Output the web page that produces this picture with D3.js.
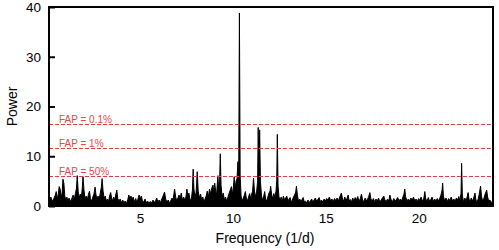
<!DOCTYPE html>
<html>
<head>
<meta charset="utf-8">
<script src="https://cdn.jsdelivr.net/npm/d3@7"></script>
<style>
  body { margin: 0; background: #fff; }
  svg { display: block; font-family: "Liberation Sans", Arial, Helvetica, sans-serif; }
</style>
</head>
<body>
<div id="chart"></div>
<script>
// periodogram, frequency (1/d) vs power
const freq = [
  0.10, 0.20, 0.28, 0.36, 0.44, 0.49, 0.54, 0.60, 0.65, 0.70, 0.76, 0.81, 0.85, 0.90, 0.95,
  1.00, 1.06, 1.12, 1.18, 1.25, 1.32, 1.40, 1.46, 1.52, 1.58, 1.62, 1.67, 1.72, 1.78, 1.85, 1.90, 1.93, 1.98,
  2.04, 2.10, 2.16, 2.22, 2.28, 2.33, 2.40, 2.46, 2.52, 2.58, 2.62, 2.68, 2.74, 2.80, 2.86, 2.92, 2.96,
  3.01, 3.07, 3.13, 3.18, 3.24, 3.30, 3.36, 3.42, 3.47, 3.53, 3.58, 3.64, 3.70, 3.75, 3.80, 3.87, 3.93,
  4.00, 4.07, 4.13, 4.20, 4.27, 4.34, 4.40, 4.45, 4.51, 4.57, 4.63, 4.70, 4.77, 4.84, 4.90, 4.95,
  5.00, 5.07, 5.13, 5.20, 5.27, 5.34, 5.41, 5.48, 5.55, 5.62, 5.70, 5.77, 5.84, 5.90, 5.96,
  6.03, 6.10, 6.18, 6.24, 6.32, 6.38, 6.45, 6.52, 6.58, 6.65, 6.72, 6.78, 6.86, 6.92, 6.98,
  7.04, 7.10, 7.16, 7.22, 7.28, 7.35, 7.42, 7.48, 7.52, 7.58, 7.63, 7.70, 7.77, 7.82, 7.86, 7.90, 7.96,
  8.02, 8.08, 8.13, 8.20, 8.26, 8.32, 8.38, 8.44, 8.50, 8.56, 8.62, 8.68, 8.74, 8.80, 8.86, 8.93, 8.97,
  9.02, 9.07, 9.12, 9.19, 9.24, 9.28, 9.32, 9.36, 9.42, 9.48, 9.54, 9.60, 9.66, 9.72, 9.78, 9.84, 9.92, 9.97,
  10.03, 10.07, 10.12, 10.17, 10.22, 10.27, 10.31, 10.35, 10.39, 10.44, 10.50, 10.56, 10.62, 10.67, 10.72, 10.78, 10.84, 10.90, 10.96,
  11.01, 11.06, 11.11, 11.16, 11.22, 11.28, 11.33, 11.36, 11.40, 11.44, 11.48, 11.54, 11.60, 11.66, 11.71, 11.76, 11.82, 11.88, 11.94,
  12.00, 12.03, 12.08, 12.14, 12.20, 12.26, 12.32, 12.36, 12.39, 12.43, 12.48, 12.54, 12.60, 12.66, 12.72, 12.78, 12.84, 12.90, 12.96,
  13.02, 13.08, 13.14, 13.20, 13.26, 13.32, 13.38, 13.42, 13.47, 13.53, 13.60, 13.66, 13.72, 13.78, 13.84, 13.90, 13.97,
  14.04, 14.10, 14.17, 14.24, 14.30, 14.37, 14.44, 14.50, 14.57, 14.64, 14.70, 14.77, 14.84, 14.91, 14.98,
  15.05, 15.12, 15.19, 15.26, 15.33, 15.40, 15.47, 15.54, 15.61, 15.68, 15.75, 15.84, 15.90, 15.96,
  16.02, 16.08, 16.14, 16.20, 16.26, 16.32, 16.38, 16.45, 16.52, 16.58, 16.65, 16.72, 16.78, 16.85, 16.92, 16.98,
  17.05, 17.12, 17.18, 17.25, 17.31, 17.37, 17.43, 17.50, 17.56, 17.63, 17.70, 17.77, 17.84, 17.91, 17.98,
  18.05, 18.12, 18.18, 18.25, 18.32, 18.39, 18.45, 18.52, 18.59, 18.66, 18.73, 18.80, 18.87, 18.94,
  19.01, 19.08, 19.15, 19.21, 19.25, 19.30, 19.37, 19.44, 19.51, 19.58, 19.65, 19.72, 19.79, 19.86, 19.93,
  20.00, 20.06, 20.13, 20.20, 20.27, 20.33, 20.38, 20.45, 20.52, 20.58, 20.65, 20.72, 20.79, 20.86, 20.93,
  21.00, 21.07, 21.14, 21.20, 21.26, 21.29, 21.33, 21.40, 21.47, 21.54, 21.61, 21.68, 21.75, 21.82, 21.89, 21.96,
  22.03, 22.10, 22.16, 22.22, 22.28, 22.31, 22.35, 22.41, 22.48, 22.55, 22.62, 22.66, 22.71, 22.77, 22.83, 22.89, 22.96,
  23.03, 23.08, 23.14, 23.20, 23.26, 23.33, 23.38, 23.44, 23.50, 23.56, 23.62, 23.66, 23.71, 23.77, 23.83, 23.90, 23.97, 24.00
];
const power = [
  1.0, 1.8, 0.9, 1.5, 2.2, 2.9, 1.4, 2.4, 3.9, 3.4, 1.6, 2.8, 5.4, 4.6, 2.0,
  1.2, 1.8, 1.0, 1.6, 0.9, 1.4, 2.2, 1.3, 2.5, 3.6, 6.1, 3.0, 1.5, 2.4, 1.9, 4.0, 5.9, 3.3,
  1.4, 2.0, 1.2, 2.3, 3.0, 1.5, 1.0, 1.8, 2.4, 3.8, 2.5, 1.2, 2.0, 1.4, 2.6, 3.8, 5.5,
  3.0, 1.5, 2.0, 1.0, 1.4, 0.8, 2.0, 2.7, 1.6, 1.0, 1.8, 1.2, 2.4, 3.2, 1.5, 1.0, 1.4,
  0.7, 1.2, 0.6, 1.0, 0.5, 1.3, 2.2, 1.5, 2.0, 1.2, 1.8, 0.8, 1.5, 0.6, 1.6, 2.2,
  1.4, 2.0, 1.0, 0.8, 1.4, 0.6, 1.0, 0.5, 0.9, 0.6, 1.2, 0.7, 1.1, 1.6, 0.8,
  1.2, 0.7, 1.5, 2.0, 2.8, 1.4, 0.8, 1.2, 0.6, 1.0, 1.6, 1.2, 3.4, 1.8, 1.0,
  1.6, 2.2, 1.4, 2.6, 1.2, 1.8, 1.0, 2.0, 3.4, 2.0, 2.6, 1.0, 1.6, 3.2, 7.4, 3.5, 1.6,
  2.8, 6.9, 3.0, 1.6, 2.4, 1.2, 1.8, 0.8, 1.4, 2.0, 3.0, 1.8, 3.4, 2.4, 3.6, 4.2, 2.5,
  4.6, 3.0, 2.2, 6.1, 3.0, 4.4, 10.5, 4.2, 1.8, 2.6, 1.2, 1.8, 1.0, 1.6, 2.4, 3.0, 3.9, 2.2,
  4.0, 5.9, 3.4, 5.0, 5.5, 8.9, 5.0, 38.8, 6.0, 2.0, 1.0, 1.6, 2.2, 2.9, 1.6, 1.0, 1.8, 2.5, 1.4,
  2.4, 3.0, 5.6, 3.0, 1.8, 3.0, 5.0, 15.8, 9.0, 15.3, 5.0, 2.0, 1.2, 2.0, 2.9, 1.4, 1.0, 1.8, 2.6,
  3.0, 4.0, 2.4, 1.4, 2.5, 1.8, 3.0, 5.2, 14.4, 4.0, 1.8, 1.2, 1.8, 1.0, 2.0, 1.2, 1.6, 2.0, 1.0,
  1.4, 1.7, 0.8, 1.2, 1.8, 2.2, 2.8, 4.0, 2.2, 1.0, 1.4, 0.8, 1.3, 1.7, 0.8, 1.0, 0.6,
  1.2, 0.7, 1.0, 1.4, 0.8, 1.2, 1.6, 1.0, 1.3, 1.7, 0.9, 1.2, 0.8, 1.4, 1.0,
  1.5, 1.2, 1.8, 1.0, 1.4, 0.9, 1.5, 1.1, 1.6, 1.0, 1.8, 2.6, 1.4, 1.0,
  1.8, 1.2, 1.5, 2.2, 1.0, 1.3, 0.8, 1.6, 1.0, 1.7, 1.2, 1.9, 1.0, 1.4, 2.4, 1.2,
  0.9, 1.6, 1.0, 1.4, 1.9, 2.7, 1.4, 1.0, 1.5, 0.8, 1.4, 1.0, 1.6, 0.8, 1.2,
  1.6, 2.0, 1.2, 0.9, 1.4, 1.0, 2.2, 1.2, 0.9, 1.5, 1.0, 1.3, 1.7, 1.0,
  1.4, 1.0, 1.8, 2.4, 3.4, 1.8, 1.0, 1.4, 1.0, 1.6, 1.2, 1.8, 1.0, 1.4, 0.9,
  1.5, 1.1, 1.8, 1.0, 1.4, 2.9, 1.4, 1.0, 1.7, 1.0, 1.3, 1.8, 0.9, 1.4, 1.0,
  1.5, 1.0, 1.6, 2.2, 3.2, 4.6, 2.0, 1.0, 1.6, 0.9, 1.5, 1.1, 1.8, 1.0, 1.4, 1.0,
  1.6, 1.2, 1.9, 1.0, 2.6, 8.6, 2.2, 0.8, 1.6, 1.0, 2.0, 2.7, 1.4, 0.8, 1.6, 1.0, 1.6,
  2.6, 1.2, 0.8, 1.4, 2.4, 4.0, 2.0, 1.0, 1.4, 2.2, 2.8, 3.2, 1.8, 1.0, 1.2, 0.8, 0.6, 0.6
];

// false alarm probability levels
const fapLabels = ['FAP = 0.1%', 'FAP = 1%', 'FAP = 50%'];
const fapLevels = [16.6, 11.75, 6.0];

const yTicks = [0, 10, 20, 30, 40];
const xTicks = [5, 10, 15, 20];

const data = freq.map((f, i) => ({ f: f, p: power[i] }));

const W = 499, H = 250;
const margin = { top: 7, right: 6, bottom: 44, left: 49 };
const width = W - margin.left - margin.right;
const height = H - margin.top - margin.bottom;

const svg = d3.select('#chart')
  .append('svg')
  .attr('width', W)
  .attr('height', H)
  .append('g')
  .attr('transform', `translate(${margin.left},${margin.top})`);

const x = d3.scaleLinear()
  .domain([0.1, 24])
  .range([0, width]);

const y = d3.scaleLinear()
  .domain([0, 40])
  .range([height, 0]);

// snap a thin horizontal line onto an even pixel row so it stays sharp and red
function rowOf(v) {
  let r = Math.floor(margin.top + y(v));
  if (r % 2) r += 1;
  return r - margin.top;
}

// spectrum
const area = d3.area()
  .x(d => x(d.f))
  .y0(y(0))
  .y1(d => y(d.p));

const line = d3.line()
  .x(d => x(d.f))
  .y(d => y(d.p));

svg.append('path')
  .datum(data)
  .attr('fill', '#000')
  .attr('d', area);

svg.append('path')
  .datum(data)
  .attr('fill', 'none')
  .attr('stroke', '#000')
  .attr('stroke-width', 1)
  .attr('d', line);

// FAP lines
svg.selectAll('.fap')
  .data(fapLevels)
  .enter()
  .append('line')
  .attr('x1', 0)
  .attr('x2', width)
  .attr('y1', d => rowOf(d) + 0.5)
  .attr('y2', d => rowOf(d) + 0.5)
  .attr('stroke', '#ec3a44')
  .attr('stroke-width', 1)
  .attr('stroke-dasharray', '4,2');

svg.selectAll('.fap-label')
  .data(fapLevels)
  .enter()
  .append('text')
  .attr('x', 10)
  .attr('y', d => rowOf(d) - 1.5)
  .attr('fill', '#e8464e')
  .style('font-size', '10px')
  .text((d, i) => fapLabels[i]);

// axes
const yAxis = svg.append('g')
  .call(d3.axisLeft(y).tickValues(yTicks).tickSize(-6).tickPadding(8));
yAxis.select('.domain').remove();
yAxis.selectAll('line').attr('stroke', '#000').attr('stroke-width', 2);
yAxis.selectAll('text').style('font-size', '13.5px').attr('fill', '#000');

const xAxis = svg.append('g')
  .attr('transform', `translate(0,${height})`)
  .call(d3.axisBottom(x).tickValues(xTicks).tickSize(0).tickPadding(7));
xAxis.select('.domain').remove();
xAxis.selectAll('text').style('font-size', '13.5px').attr('fill', '#000');

// frame
svg.append('rect')
  .attr('x', 0)
  .attr('y', 0)
  .attr('width', width)
  .attr('height', height)
  .attr('fill', 'none')
  .attr('stroke', '#000')
  .attr('stroke-width', 2);

svg.append('text')
  .attr('x', width / 2 - 6)
  .attr('y', height + 37)
  .attr('text-anchor', 'middle')
  .style('font-size', '14px')
  .text('Frequency (1/d)');

svg.append('text')
  .attr('transform', 'rotate(-90)')
  .attr('x', -height / 2)
  .attr('y', -margin.left + 17)
  .attr('text-anchor', 'middle')
  .style('font-size', '14px')
  .text('Power');
</script>
</body>
</html>
